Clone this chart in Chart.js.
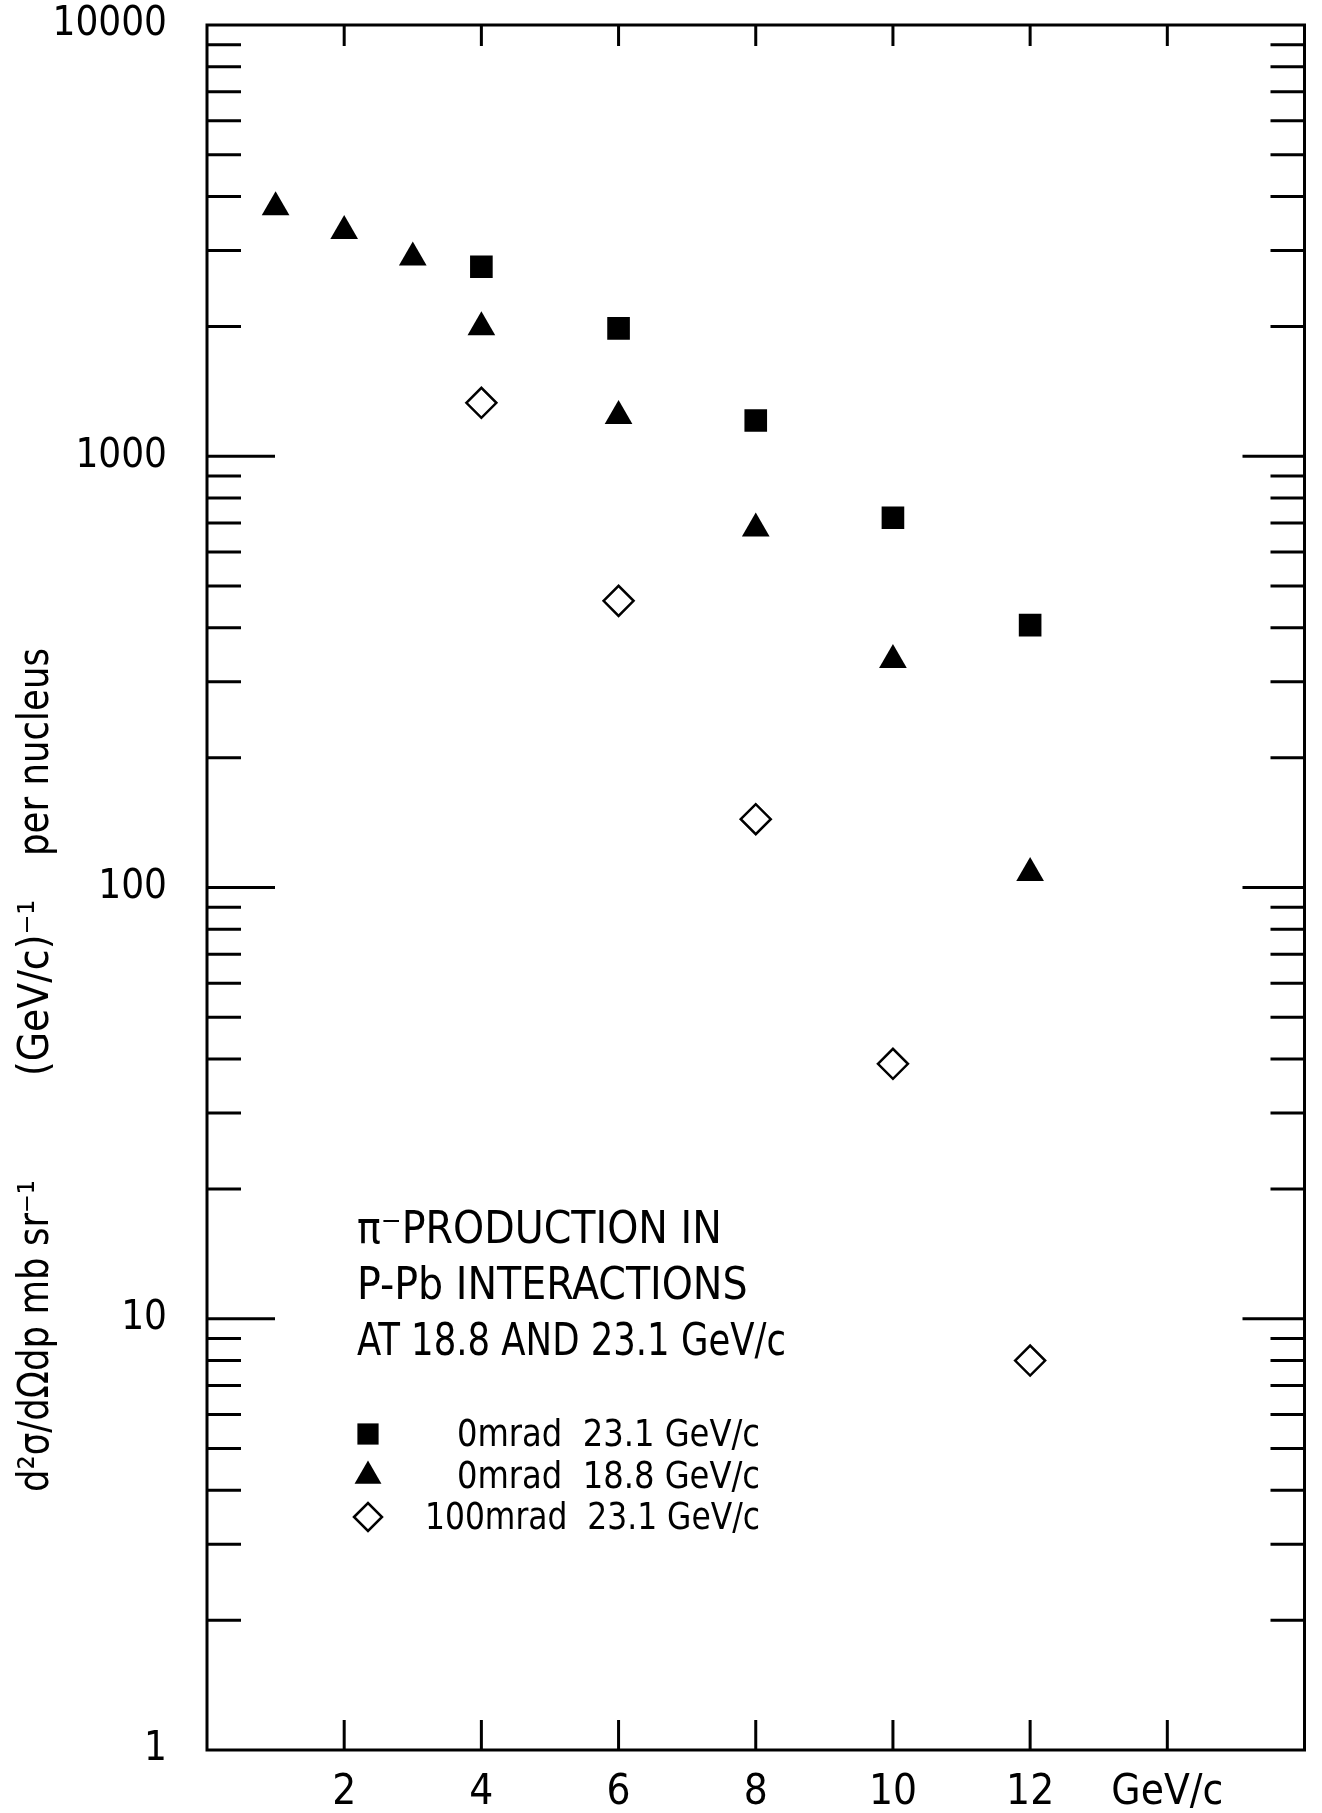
<!DOCTYPE html>
<html>
<head>
<meta charset="utf-8">
<script src="https://cdn.jsdelivr.net/npm/chart.js@4.4.0/dist/chart.umd.min.js"></script>
<style>
html, body { margin: 0; padding: 0; background: #fff; }
</style>
</head>
<body>
<canvas id="chart" width="1322" height="1813"></canvas>
<script>
// data (momentum in GeV/c, cross section per nucleus)
const xSquare = [4, 6, 8, 10, 12];
const ySquare = [2750, 1980, 1210, 720, 406];

const xTriangle = [1, 2, 3, 4, 6, 8, 10, 12];
const yTriangle = [3780, 3330, 2890, 1990, 1240, 680, 337, 108];

const xDiamond = [4, 6, 8, 10, 12];
const yDiamond = [1330, 462, 144, 39, 8];

const seriesNames = ['0mrad  23.1 GeV/c', '0mrad  18.8 GeV/c', '100mrad  23.1 GeV/c'];

const xTickValues = [2, 4, 6, 8, 10, 12, 14];
const xTickLabels = ['2', '4', '6', '8', '10', '12', 'GeV/c'];
const yTickValues = [1, 10, 100, 1000, 10000];
const yTickLabels = ['1', '10', '100', '1000', '10000'];

const noteLines = ['π⁻PRODUCTION IN', 'P-Pb INTERACTIONS', 'AT 18.8 AND 23.1 GeV/c'];
const yTitleParts = ['d²σ/dΩdp mb sr⁻¹', '(GeV/c)⁻¹', 'per nucleus'];

const FONT = "'DejaVu Sans Condensed', 'DejaVu Sans', sans-serif";

const toPoints = (xs, ys) => xs.map((x, i) => ({ x: x, y: ys[i] }));

// frame, inward ticks, y title, text block and legend
const paperPlugin = {
    id: 'paper',
    beforeDatasetsDraw(chart) {
        const ctx = chart.ctx;
        const { left, right, top, bottom } = chart.chartArea;
        const xs = chart.scales.x;
        const ys = chart.scales.y;
        ctx.save();
        ctx.strokeStyle = '#000';
        ctx.lineWidth = 3;
        ctx.strokeRect(left, top, right - left, bottom - top);

        ctx.beginPath();
        for (let k = 0; k < 4; k++) {
            for (let m = 1; m <= 9; m++) {
                if (k === 0 && m === 1) continue;
                const y = ys.getPixelForValue(m * Math.pow(10, k));
                const lenL = m === 1 ? 68 : 34;
                const lenR = m === 1 ? 62 : 34;
                ctx.moveTo(left, y);
                ctx.lineTo(left + lenL, y);
                ctx.moveTo(right, y);
                ctx.lineTo(right - lenR, y);
            }
        }
        xTickValues.forEach(v => {
            const x = xs.getPixelForValue(v);
            ctx.moveTo(x, bottom);
            ctx.lineTo(x, bottom - 30);
            ctx.moveTo(x, top);
            ctx.lineTo(x, top + 21);
        });
        ctx.stroke();
        ctx.restore();
    },
    afterDraw(chart) {
        const ctx = chart.ctx;
        ctx.save();
        ctx.fillStyle = '#000';

        // y axis title, three pieces going up
        const titleStart = [1492, 1076, 856];
        const titleWidth = [312, 185, 208];
        ctx.save();
        ctx.translate(37, 0);
        ctx.rotate(-Math.PI / 2);
        ctx.font = '42px ' + FONT;
        ctx.textAlign = 'left';
        ctx.textBaseline = 'middle';
        yTitleParts.forEach((t, i) => ctx.fillText(t, -titleStart[i], 0, titleWidth[i]));
        ctx.restore();

        // text block
        ctx.font = '44px ' + FONT;
        ctx.textAlign = 'left';
        ctx.textBaseline = 'alphabetic';
        const noteBase = [1243, 1299, 1355];
        const noteWidth = [384, 409, 429];
        noteLines.forEach((t, i) => ctx.fillText(t, 357, noteBase[i], noteWidth[i]));

        // legend
        const rows = [1434, 1476, 1517];
        const rowWidth = [303, 303, 335];
        chart.data.datasets.forEach((ds, i) => {
            const y = rows[i];
            ctx.fillStyle = ds.backgroundColor;
            ctx.strokeStyle = ds.borderColor;
            ctx.lineWidth = ds.borderWidth;
            Chart.helpers.drawPoint(ctx, {
                pointStyle: ds.pointStyle,
                radius: ds.legendRadius,
                borderWidth: ds.borderWidth
            }, 368, y);
            ctx.fillStyle = '#000';
            ctx.font = '38px ' + FONT;
            ctx.textAlign = 'right';
            ctx.textBaseline = 'middle';
            ctx.fillText(seriesNames[i], 760, y + 2, rowWidth[i]);
        });
        ctx.restore();
    }
};

new Chart(document.getElementById('chart'), {
    type: 'scatter',
    data: {
        datasets: [{
            label: seriesNames[0],
            data: toPoints(xSquare, ySquare),
            pointStyle: 'rect',
            pointRadius: 16,
            legendRadius: 15,
            backgroundColor: '#000',
            borderColor: '#000',
            borderWidth: 0
        }, {
            label: seriesNames[1],
            data: toPoints(xTriangle, yTriangle),
            pointStyle: 'triangle',
            pointRadius: 16,
            legendRadius: 15.5,
            backgroundColor: '#000',
            borderColor: '#000',
            borderWidth: 0
        }, {
            label: seriesNames[2],
            data: toPoints(xDiamond, yDiamond),
            pointStyle: 'rectRot',
            pointRadius: 15,
            legendRadius: 14,
            backgroundColor: '#fff',
            borderColor: '#000',
            borderWidth: 2.5
        }]
    },
    options: {
        responsive: false,
        animation: false,
        devicePixelRatio: 1,
        layout: { padding: { top: 25, right: 15, left: 0, bottom: 0 } },
        plugins: {
            legend: { display: false },
            tooltip: { enabled: false }
        },
        scales: {
            x: {
                type: 'linear',
                min: 0,
                max: 16,
                afterFit: (s) => { s.height = 63; s.paddingLeft = 0; s.paddingRight = 0; },
                afterBuildTicks: (s) => { s.ticks = xTickValues.map(v => ({ value: v })); },
                grid: { display: false, drawTicks: false },
                border: { display: false },
                ticks: {
                    autoSkip: false,
                    maxRotation: 0,
                    padding: 22,
                    color: '#000',
                    font: { family: FONT, size: 42, lineHeight: 1 },
                    callback: (v, i) => xTickLabels[i]
                }
            },
            y: {
                type: 'logarithmic',
                min: 1,
                max: 10000,
                afterFit: (s) => { s.width = 207; s.paddingTop = 0; s.paddingBottom = 0; },
                afterBuildTicks: (s) => { s.ticks = yTickValues.map(v => ({ value: v })); },
                grid: { display: false, drawTicks: false },
                border: { display: false },
                ticks: {
                    autoSkip: false,
                    padding: 40,
                    color: '#000',
                    font: { family: FONT, size: 40, lineHeight: 1 },
                    callback: (v, i) => yTickLabels[i]
                }
            }
        }
    },
    plugins: [paperPlugin]
});
</script>
</body>
</html>
